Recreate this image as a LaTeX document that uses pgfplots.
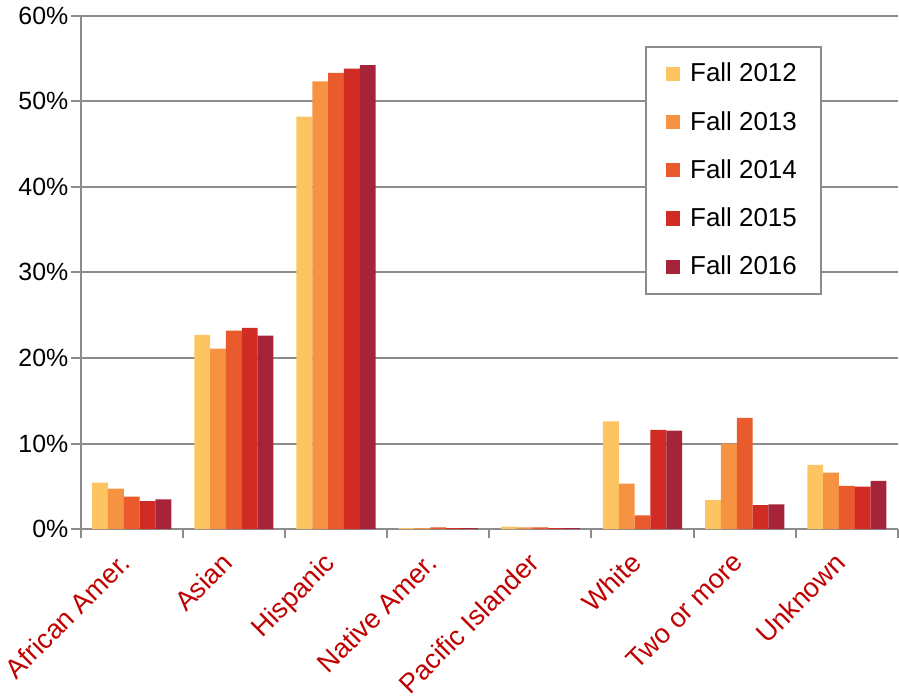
\documentclass[border=0pt]{standalone}
\usepackage{pgfplots}
\pgfplotsset{compat=1.18}
\usepackage{fontspec}
\setmainfont{Liberation Sans}
\definecolor{cA}{HTML}{FDC561}
\definecolor{cB}{HTML}{F59342}
\definecolor{cC}{HTML}{E95A2C}
\definecolor{cD}{HTML}{D02B24}
\definecolor{cE}{HTML}{A6243A}
\definecolor{labred}{HTML}{C00000}
\definecolor{axgray}{HTML}{8C8C8C}
\begin{document}
\begin{tikzpicture}
\begin{axis}[
  scale only axis,
  width=403.5pt, height=253.5pt,
  ybar=0pt, bar width=0.155,
  xmin=-0.5, xmax=7.5,
  ymin=0, ymax=60,
  xtick={0,...,7},
  xticklabels={African Amer.,Asian,Hispanic,Native Amer.,Pacific Islander,White,Two or more,Unknown},
  major x tick style={draw=none},
  minor xtick={-0.5,0.5,...,7.5},
  minor x tick style={draw=axgray, line width=1pt},
  minor tick length=4.5pt,
  major tick length=4.5pt,
  tick align=outside,
  x tick label style={rotate=45, anchor=north east, font=\fontsize{13.4}{15}\selectfont, text=labred, inner sep=1pt, xshift=-8pt, yshift=1.5pt},
  ytick={0,10,...,60},
  yticklabel={\pgfmathprintnumber{\tick}\%},
  y tick label style={font=\fontsize{12.3}{14}\selectfont, xshift=2pt},
  /pgf/number format/assume math mode=true,
  major y tick style={draw=axgray, line width=1pt},
  ymajorgrids,
  grid style={draw=axgray, line width=1pt},
  axis line style={draw=axgray, line width=1pt},
  axis x line*=bottom, axis y line*=left,
  legend style={at={(0.69,0.941)}, anchor=north west, draw=axgray, line width=1pt,
    font=\fontsize{12.8}{14}\selectfont, inner xsep=10pt, inner ysep=6pt, row sep=9pt,
    /tikz/every odd column/.append style={column sep=3pt}},
  legend cell align=left,
  legend image code/.code={\fill[#1] (0pt,-3.5pt) rectangle (7pt,3.5pt);},
]
\addplot[fill=cA, draw=none] coordinates {(0,5.44) (1,22.7) (2,48.2) (3,0.1) (4,0.3) (5,12.6) (6,3.4) (7,7.5)};
\addplot[fill=cB, draw=none] coordinates {(0,4.73) (1,21.1) (2,52.3) (3,0.1) (4,0.2) (5,5.3) (6,10.0) (7,6.6)};
\addplot[fill=cC, draw=none] coordinates {(0,3.8) (1,23.2) (2,53.3) (3,0.2) (4,0.2) (5,1.6) (6,13.0) (7,5.05)};
\addplot[fill=cD, draw=none] coordinates {(0,3.28) (1,23.5) (2,53.8) (3,0.1) (4,0.1) (5,11.6) (6,2.8) (7,4.97)};
\addplot[fill=cE, draw=none] coordinates {(0,3.47) (1,22.6) (2,54.2) (3,0.1) (4,0.1) (5,11.5) (6,2.9) (7,5.64)};
\legend{Fall 2012,Fall 2013,Fall 2014,Fall 2015,Fall 2016}
\end{axis}
\end{tikzpicture}
\end{document}
